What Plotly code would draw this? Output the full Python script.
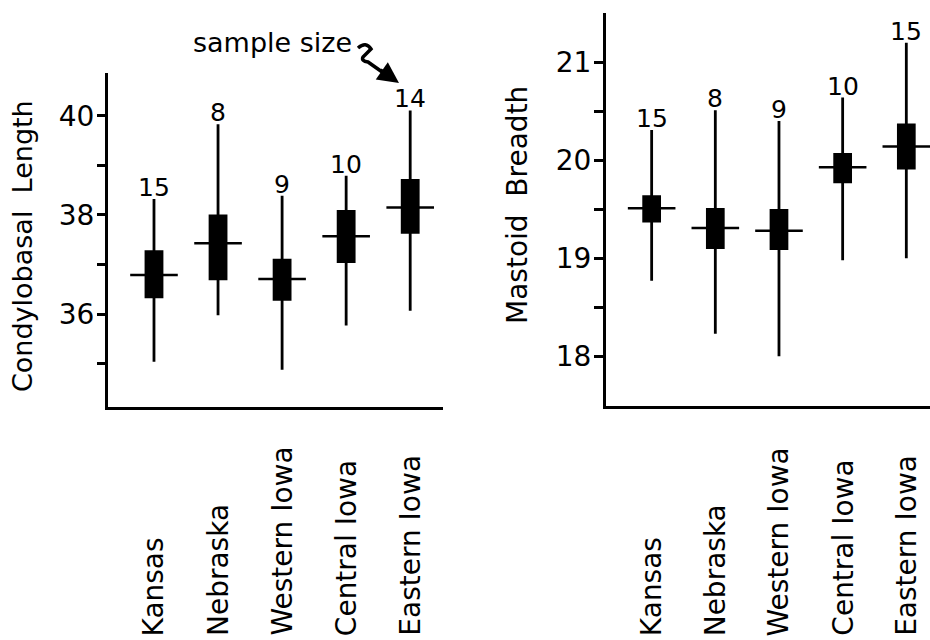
import plotly.graph_objects as go

W, H = 930, 640
FONT = "DejaVu Sans"

regions = ["Kansas", "Nebraska", "Western Iowa", "Central Iowa", "Eastern Iowa"]

# Condylobasal Length
cbl_min = [35.04, 35.98, 34.88, 35.77, 36.07]
cbl_q1 = [36.35, 36.71, 36.30, 37.06, 37.65]
cbl_mean = [36.79, 37.43, 36.71, 37.57, 38.15]
cbl_q3 = [37.26, 37.98, 37.09, 38.07, 38.70]
cbl_max = [38.32, 39.83, 38.39, 38.79, 40.11]
cbl_n = [15, 8, 9, 10, 14]

# Mastoid Breadth
mb_min = [18.77, 18.23, 18.00, 18.98, 19.00]
mb_q1 = [19.38, 19.11, 19.10, 19.78, 19.92]
mb_mean = [19.51, 19.31, 19.28, 19.93, 20.14]
mb_q3 = [19.63, 19.50, 19.49, 20.06, 20.36]
mb_max = [20.31, 20.51, 20.40, 20.64, 21.20]
mb_n = [15, 8, 9, 10, 15]

cbl_ticks = [35, 36, 37, 38, 39, 40]
cbl_ticktext = ["", "36", "", "38", "", "40"]
mb_ticks = [18, 18.5, 19, 19.5, 20, 20.5, 21]
mb_ticktext = ["18", "", "19", "", "20", "", "21"]


def px(x):
    return x / W


def py(y):
    return 1 - y / H


fig = go.Figure()

panels = [
    ("x", "y", cbl_min, cbl_q1, cbl_mean, cbl_q3, cbl_max, cbl_n),
    ("x2", "y2", mb_min, mb_q1, mb_mean, mb_q3, mb_max, mb_n),
]

annotations = []
for xa, ya, mn, q1, mean, q3, mx, n in panels:
    fig.add_trace(go.Box(
        x=regions, q1=q1, median=mean, q3=q3, lowerfence=mn, upperfence=mx,
        xaxis=xa, yaxis=ya, width=0.25, whiskerwidth=0,
        fillcolor="black", line=dict(color="black", width=2.8),
        boxpoints=False, hoverinfo="skip", showlegend=False,
    ))
    fig.add_trace(go.Scatter(
        x=regions, y=mean, xaxis=xa, yaxis=ya, mode="markers",
        marker=dict(symbol="line-ew", size=34,
                    line=dict(color="black", width=2.5)),
        hoverinfo="skip", showlegend=False,
    ))
    for r, top, cnt in zip(regions, mx, n):
        annotations.append(dict(
            x=r, y=top, xref=xa, yref=ya, text=str(cnt), showarrow=False,
            yanchor="bottom", xanchor="center", yshift=-5,
            font=dict(family=FONT, size=25, color="black"),
        ))
    for r in regions:
        annotations.append(dict(
            x=r, y=0, xref=xa, yref="paper", text=r, showarrow=False,
            textangle=-90, yanchor="bottom", xanchor="center", yshift=2,
            font=dict(family=FONT, size=28, color="black"),
        ))

annotations.append(dict(
    x=px(22), y=py(246), xref="paper", yref="paper",
    text="Condylobasal  Length", textangle=-90, showarrow=False,
    xanchor="center", yanchor="middle",
    font=dict(family=FONT, size=27, color="black"),
))
annotations.append(dict(
    x=px(517), y=py(205), xref="paper", yref="paper",
    text="Mastoid  Breadth", textangle=-90, showarrow=False,
    xanchor="center", yanchor="middle",
    font=dict(family=FONT, size=28, color="black"),
))
annotations.append(dict(
    x=px(272), y=py(43), xref="paper", yref="paper",
    text="sample size", showarrow=False,
    xanchor="center", yanchor="middle",
    font=dict(family=FONT, size=27, color="black"),
))
annotations.append(dict(
    x=px(399), y=py(83), xref="paper", yref="paper", text="",
    showarrow=True, ax=-20, ay=-14, arrowhead=2, arrowsize=1.2,
    arrowwidth=3.5, arrowcolor="black",
))

path = "M {} {} Q {} {} {} {} L {} {} Q {} {} {} {} L {} {}".format(
    px(358), py(48), px(366), py(41), px(371), py(49),
    px(363), py(57), px(361), py(61), px(368), py(62),
    px(385), py(74),
)
shapes = [dict(type="path", path=path, xref="paper", yref="paper",
               line=dict(color="black", width=3.5))]

axis_common = dict(showgrid=False, zeroline=False, showline=True,
                   linecolor="black", linewidth=3, mirror=False)

fig.update_layout(
    width=W, height=H, autosize=False,
    margin=dict(l=0, r=0, t=0, b=0),
    paper_bgcolor="white", plot_bgcolor="white",
    font=dict(family=FONT, color="black"),
    showlegend=False,
    annotations=annotations, shapes=shapes,
    xaxis=dict(domain=[px(108), px(443)], range=[-0.718, 4.512],
               type="category", showticklabels=False, ticks="",
               anchor="y", **axis_common),
    yaxis=dict(domain=[py(407), py(73)], range=[34.127, 40.864],
               tickvals=cbl_ticks, ticktext=cbl_ticktext, ticks="outside",
               ticklen=8, tickwidth=2.5, tickcolor="black",
               ticklabelstandoff=-3,
               tickfont=dict(family=FONT, size=28, color="black"),
               anchor="x", **axis_common),
    xaxis2=dict(domain=[px(606), 1.0], range=[-0.717, 4.372],
                type="category", showticklabels=False, ticks="",
                anchor="y2", **axis_common),
    yaxis2=dict(domain=[py(406), py(13)], range=[17.493, 21.503],
                tickvals=mb_ticks, ticktext=mb_ticktext, ticks="outside",
                ticklen=9, tickwidth=2.5, tickcolor="black",
                ticklabelstandoff=-3,
                tickfont=dict(family=FONT, size=28, color="black"),
                anchor="x2", **axis_common),
)

fig.write_html("out.html", config={"displayModeBar": False},
               post_script="document.body.style.margin='0';")
